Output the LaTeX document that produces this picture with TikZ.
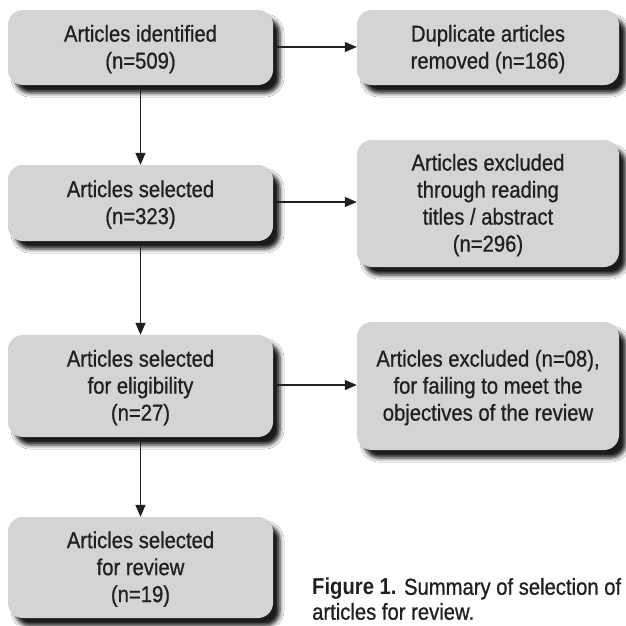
\documentclass[tikz,border=0pt]{standalone}
\usepackage{fontspec}
\newfontfamily\boxfont[FakeStretch=0.88, UprightFeatures={FakeBold=0.8}]{Liberation Sans}
\usetikzlibrary{arrows.meta,shadows.blur}
\definecolor{boxgrey}{HTML}{D4D4D6}
\definecolor{inkc}{HTML}{231F20}
\begin{document}
\begin{tikzpicture}[x=1pt,y=-1pt,
  fbox/.style={rectangle, rounded corners=15pt, fill=boxgrey, draw=none,
    align=center, inner sep=2pt, text=inkc,
    font={\boxfont\fontsize{23}{27}\selectfont},
    blur shadow={shadow xshift=7pt, shadow yshift=-8pt, shadow blur radius=4pt, shadow opacity=90}},
  flow/.style={draw=inkc, line width=1.3pt, -{Triangle[length=12pt,width=10pt]}}]
\useasboundingbox (0,0) rectangle (626,625);
\fill[white] (0,0) rectangle (626,625);
\node[fbox, minimum width=265pt, minimum height=75pt] (b1) at (140.5,47.5) {\rule{0pt}{20pt}Articles identified\\(n=509)};
\node[fbox, minimum width=262pt, minimum height=75pt] (b2) at (488,47.5) {\rule{0pt}{20pt}Duplicate articles\\removed (n=186)};
\node[fbox, minimum width=265pt, minimum height=76pt] (b3) at (140.5,203) {\rule{0pt}{20pt}Articles selected\\(n=323)};
\node[fbox, minimum width=262pt, minimum height=127pt] (b4) at (488,203.5) {\rule{0pt}{20pt}Articles excluded\\through reading\\titles / abstract\\(n=296)};
\node[fbox, minimum width=265pt, minimum height=102pt] (b5) at (140.5,386) {\rule{0pt}{20pt}Articles selected\\for eligibility\\(n=27)};
\node[fbox, minimum width=262pt, minimum height=128pt] (b6) at (488,386) {\rule{0pt}{20pt}Articles excluded (n=08),\\for failing to meet the\\objectives of the review};
\node[fbox, minimum width=265pt, minimum height=101pt] (b7) at (140.5,567.5) {\rule{0pt}{20pt}Articles selected\\for review\\(n=19)};
\node[anchor=west, align=left, inner sep=0pt, text=inkc,
  font={\boxfont\fontsize{23}{25}\selectfont}] (cap) at (312,599)
  {\textbf{Figure 1.} Summary of selection of\\articles for review.};
\draw[flow] (b1.east |- 0,47) -- (b2.west |- 0,47);
\draw[flow] (b3.east |- 0,202) -- (b4.west |- 0,202);
\draw[flow] (b5.east |- 0,385) -- (b6.west |- 0,385);
\draw[flow] (b1.south) -- (b3.north);
\draw[flow] (b3.south) -- (b5.north);
\draw[flow] (b5.south) -- (b7.north);
\end{tikzpicture}
\end{document}
